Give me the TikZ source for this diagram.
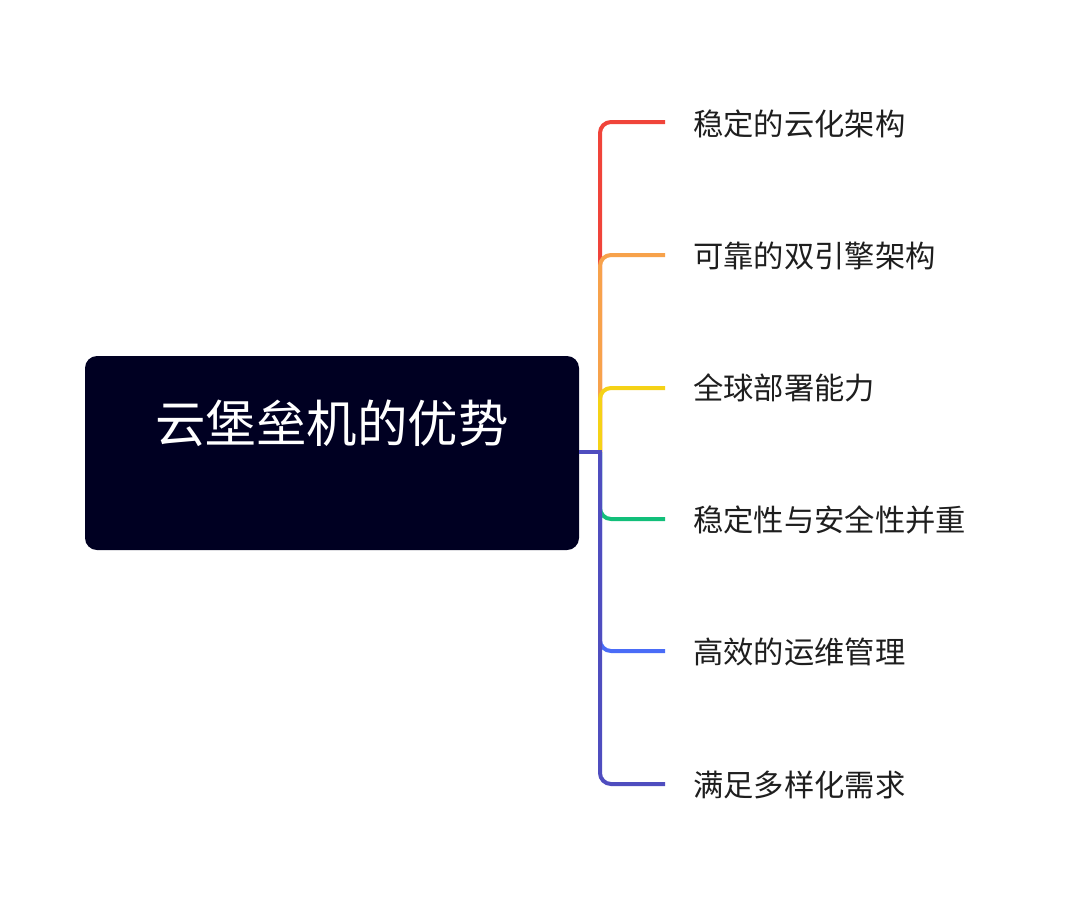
\documentclass[tikz,border=0pt]{standalone}
\usepackage{fontspec}
\newfontfamily\cjk{Noto Sans CJK SC}
\definecolor{boxfill}{HTML}{000022}
\definecolor{cred}{HTML}{F0443A}
\definecolor{corange}{HTML}{F7A24B}
\definecolor{cyellow}{HTML}{F5D216}
\definecolor{cgreen}{HTML}{12BF7A}
\definecolor{cblue}{HTML}{4A6CF7}
\definecolor{cpurple}{HTML}{4F4DBF}
\definecolor{ctext}{HTML}{1E1E1E}
\begin{document}
\begin{tikzpicture}[x=1pt,y=-1pt,
  rootbox/.style={fill=boxfill,draw=none,rounded corners=12pt,minimum width=494pt,minimum height=194pt,inner sep=0pt},
  titletext/.style={text=white,font=\cjk\fontsize{50.5}{58}\selectfont,inner sep=0pt},
  leaf/.style={text=ctext,font=\cjk\fontsize{30.3}{35}\selectfont,anchor=west,inner sep=0pt},
  branch/.style={line width=4pt,rounded corners=11pt}]
\useasboundingbox (0,0) rectangle (1080,906);
\node[rootbox] (root) at (332,453) {};
\node[titletext] (title) at (332,423) {云堡垒机的优势};
\coordinate (j) at (600,452);
\node[leaf] (l1) at (693,124) {稳定的云化架构};
\node[leaf] (l2) at (693,256) {可靠的双引擎架构};
\node[leaf] (l3) at (693,388) {全球部署能力};
\node[leaf] (l4) at (693,520) {稳定性与安全性并重};
\node[leaf] (l5) at (693,652) {高效的运维管理};
\node[leaf] (l6) at (693,785) {满足多样化需求};
\coordinate (e1) at (665,122);
\coordinate (e2) at (665,255);
\coordinate (e3) at (665,388);
\coordinate (e4) at (665,519);
\coordinate (e5) at (665,651);
\coordinate (e6) at (665,784);
\draw[branch,cred] (j) |- (e1);
\draw[branch,corange] (j) |- (e2);
\draw[branch,cyellow] (j) |- (e3);
\draw[branch,cgreen] (j) |- (e4);
\draw[branch,cblue] (j) |- (e5);
\draw[branch,cpurple] (j) |- (e6);
\draw[line width=4pt,cpurple] (root.east |- j) -- ([xshift=2pt]j);
\end{tikzpicture}
\end{document}
